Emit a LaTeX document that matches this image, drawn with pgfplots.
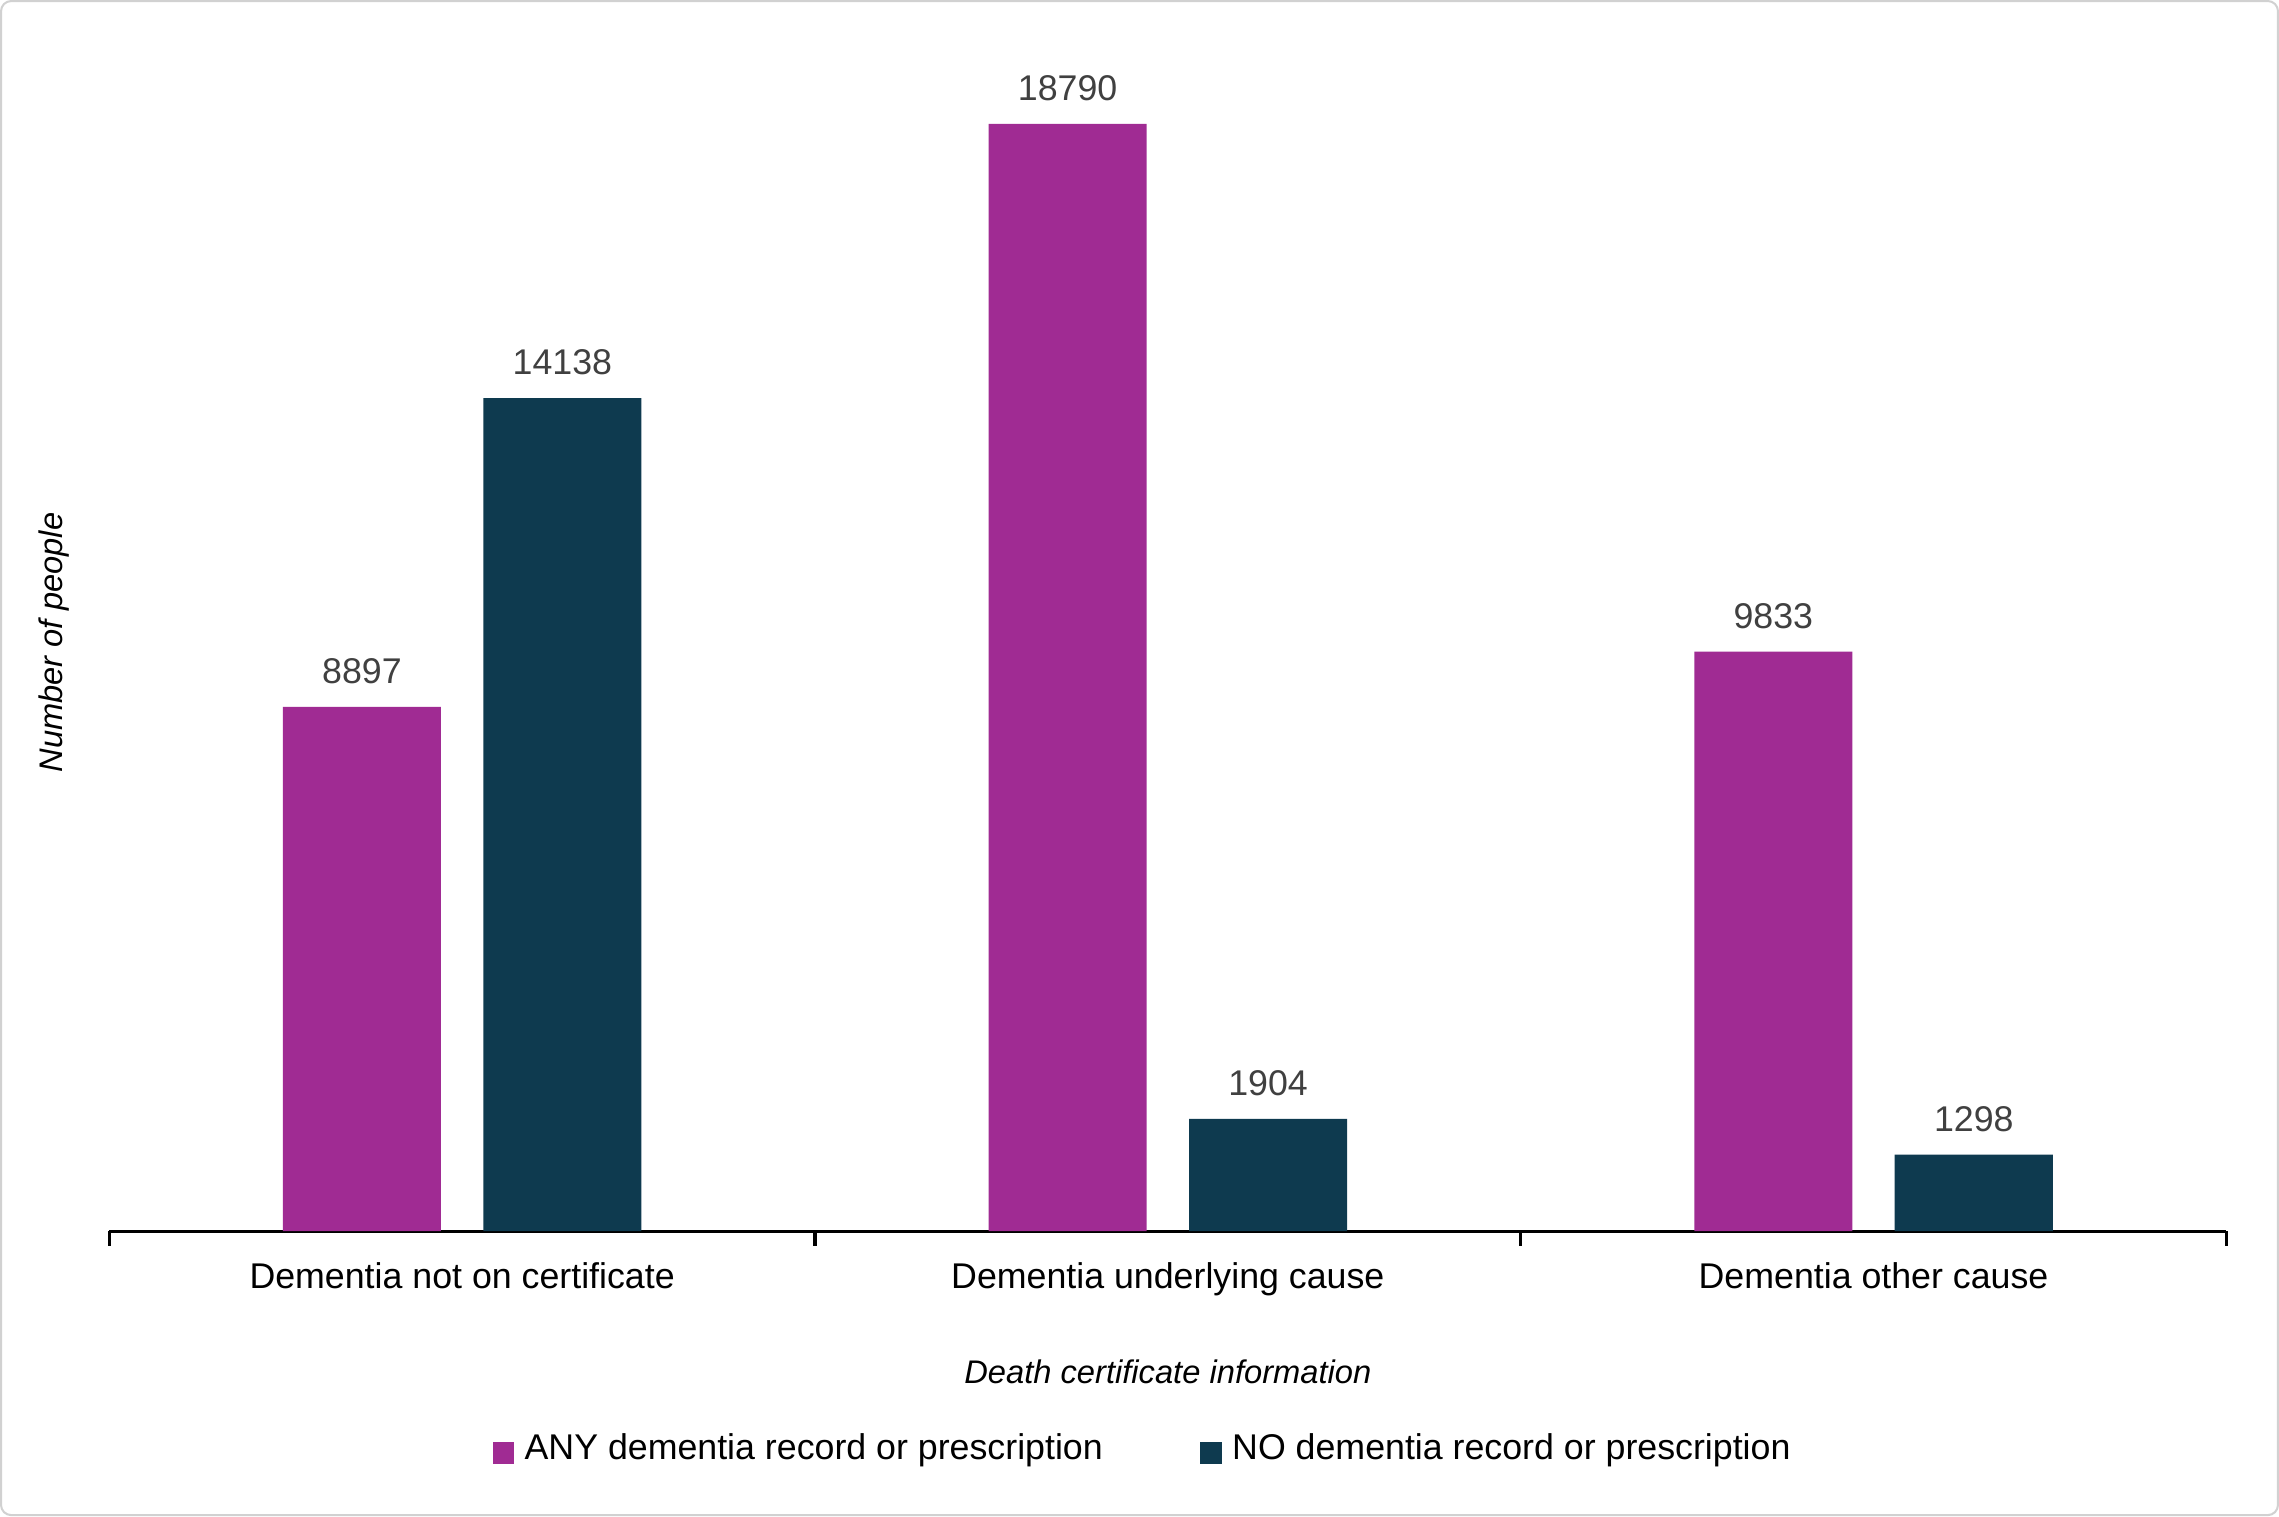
\documentclass[border=0pt]{standalone}
\usepackage{pgfplots}
\pgfplotsset{compat=1.18}
\usepackage{fontspec}
\setmainfont{Liberation Sans}
\definecolor{anyc}{HTML}{A02B93}
\definecolor{noc}{HTML}{0E3A4F}
\begin{document}
\fontsize{7pt}{8pt}\selectfont
\begin{tikzpicture}
\draw[black!18, line width=0.4pt, rounded corners=2pt] (-0.745cm,-1.955cm) rectangle (14.925cm,8.465cm);
\node[rotate=90, font=\fontsize{6.4pt}{7pt}\selectfont\itshape] at (-0.38cm,4.05cm) {Number of people};
\begin{axis}[
  at={(0,0)}, anchor=south west,
  scale only axis, width=14.57cm, height=8.11cm,
  ybar, bar width=0.224,
  xmin=-0.5, xmax=2.5, ymin=0, ymax=20000,
  axis x line*=bottom, axis y line=none,
  x axis line style={-, black, line width=0.6pt},
  xtick={-0.5,0.5,1.5,2.5}, xticklabels={},
  xtick align=outside, major tick length=0.1cm,
  xtick style={black, line width=0.6pt},
  extra x ticks={0,1,2},
  extra x tick labels={Dementia not on certificate, Dementia underlying cause, Dementia other cause},
  extra x tick style={tick style={draw=none}},
  ticklabel style={font=\fontsize{7pt}{8pt}\selectfont, text=black},
  xticklabel style={yshift=-0.03cm},
  xlabel={\itshape Death certificate information},
  xlabel style={at={(rel axis cs:0.5,0)}, anchor=center, yshift=-0.97cm, font=\fontsize{6.4pt}{7pt}\selectfont},
  nodes near coords,
  /pgf/number format/assume math mode=true,
  /pgf/number format/set thousands separator={},
  every node near coord/.append style={font=\fontsize{7pt}{8pt}\selectfont, text=black!75, yshift=2pt},
  legend columns=2,
  legend style={at={(rel axis cs:0.49,-0.185)}, anchor=center, draw=none, font=\fontsize{7pt}{8pt}\selectfont,
    /tikz/every even column/.append style={column sep=0.6cm}},
  legend image code/.code={\fill[#1] (0cm,-0.1cm) rectangle (0.15cm,0.05cm);},
]
\addplot[fill=anyc, draw=none, bar shift=-0.142] coordinates {(0,8897) (1,18790) (2,9833)};
\addplot[fill=noc, draw=none, bar shift=0.142] coordinates {(0,14138) (1,1904) (2,1298)};
\legend{ANY dementia record or prescription, NO dementia record or prescription}
\end{axis}
\end{tikzpicture}
\end{document}
